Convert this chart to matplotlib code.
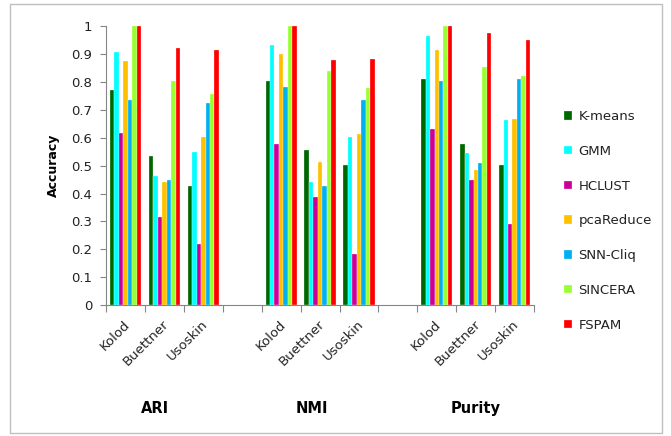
import matplotlib
matplotlib.use("Agg")
import matplotlib.pyplot as plt
import numpy as np
from matplotlib.ticker import FormatStrFormatter, FixedLocator
from matplotlib.patches import Rectangle

# data: 3 datasets x 3 metrics, blank slot between metric groups
datasets = ["Kolod", "Buettner", "Usoskin"]
metrics = ["ARI", "NMI", "Purity"]
methods = ["K-means", "GMM", "HCLUST", "pcaReduce", "SNN-Cliq", "SINCERA", "FSPAM"]
colors = ["#006600", "#00FFFF", "#CC0099", "#FFC000", "#00B0F0", "#99FF33", "#FF0000"]

# values per method, order: ARI(Kolod, Buettner, Usoskin), NMI(...), Purity(...)
kmeans = [0.773, 0.534, 0.427, 0.803, 0.556, 0.504, 0.812, 0.579, 0.504]
gmm = [0.907, 0.462, 0.550, 0.932, 0.440, 0.601, 0.965, 0.544, 0.663]
hclust = [0.616, 0.317, 0.219, 0.576, 0.388, 0.183, 0.633, 0.450, 0.290]
pcareduce = [0.876, 0.440, 0.601, 0.902, 0.514, 0.612, 0.916, 0.486, 0.668]
snncliq = [0.737, 0.447, 0.725, 0.783, 0.427, 0.737, 0.803, 0.508, 0.812]
sincera = [1.000, 0.803, 0.756, 1.000, 0.840, 0.777, 1.000, 0.854, 0.823]
fspam = [1.000, 0.922, 0.916, 1.000, 0.880, 0.881, 1.000, 0.974, 0.952]
series = [kmeans, gmm, hclust, pcareduce, snncliq, sincera, fspam]

# category slots: 3 datasets, a blank, 3 datasets, a blank, 3 datasets
slots = [g * 4 + d for g in range(len(metrics)) for d in range(len(datasets))]
slots = np.array(slots)

fig = plt.figure(figsize=(6.71, 4.36), dpi=100)
ax = fig.add_axes([0.158, 0.300, 0.638, 0.640])

n = len(methods)
group_w = 0.8
bw = group_w / n
for i, (name, vals, c) in enumerate(zip(methods, series, colors)):
    x = slots - group_w / 2 + bw * (i + 0.5)
    ax.bar(x, vals, width=bw, color=c, label=name, edgecolor="white", linewidth=0.2)

ax.set_xlim(-0.5, 10.5)
ax.set_ylim(0, 1)
ax.yaxis.set_major_locator(FixedLocator(np.arange(0, 1.01, 0.1)))
ax.yaxis.set_major_formatter(FormatStrFormatter("%g"))
ax.tick_params(axis="y", labelsize=9.5, length=4, color="#868686", labelcolor="#222222", pad=6)

# x ticks at category borders, labels at category centres
ax.set_xticks(np.arange(-0.5, 11, 1.0))
ax.set_xticklabels([])
ax.tick_params(axis="x", length=5, color="#868686")
for s in slots:
    ax.text(s - 0.05, -0.045, datasets[s % 4], rotation=45, ha="right", va="top",
            rotation_mode="anchor", fontsize=9.5, color="#222222")

for sp in ["top", "right"]:
    ax.spines[sp].set_visible(False)
for sp in ["left", "bottom"]:
    ax.spines[sp].set_color("#868686")

ax.set_ylabel("Accuracy", fontsize=9, fontweight="bold", labelpad=8)

# metric group titles under the dataset labels
for gx, m in zip([0.75, 4.8, 9.0], metrics):
    ax.text(gx, -0.37, m, ha="center", va="center", fontsize=10.5,
            fontweight="bold", transform=ax.get_xaxis_transform())

leg = fig.legend(loc="upper left", bbox_to_anchor=(0.823, 0.775), frameon=False,
                 fontsize=9.5, handlelength=0.6, handleheight=0.6,
                 handletextpad=0.5, labelspacing=1.65)
for t in leg.get_texts():
    t.set_color("#222222")

# outer chart border
fig.patches.append(Rectangle((0.015, 0.007), 0.972, 0.983, transform=fig.transFigure,
                             fill=False, edgecolor="#BFBFBF", linewidth=1.0))

fig.savefig("out.png", dpi=100)
